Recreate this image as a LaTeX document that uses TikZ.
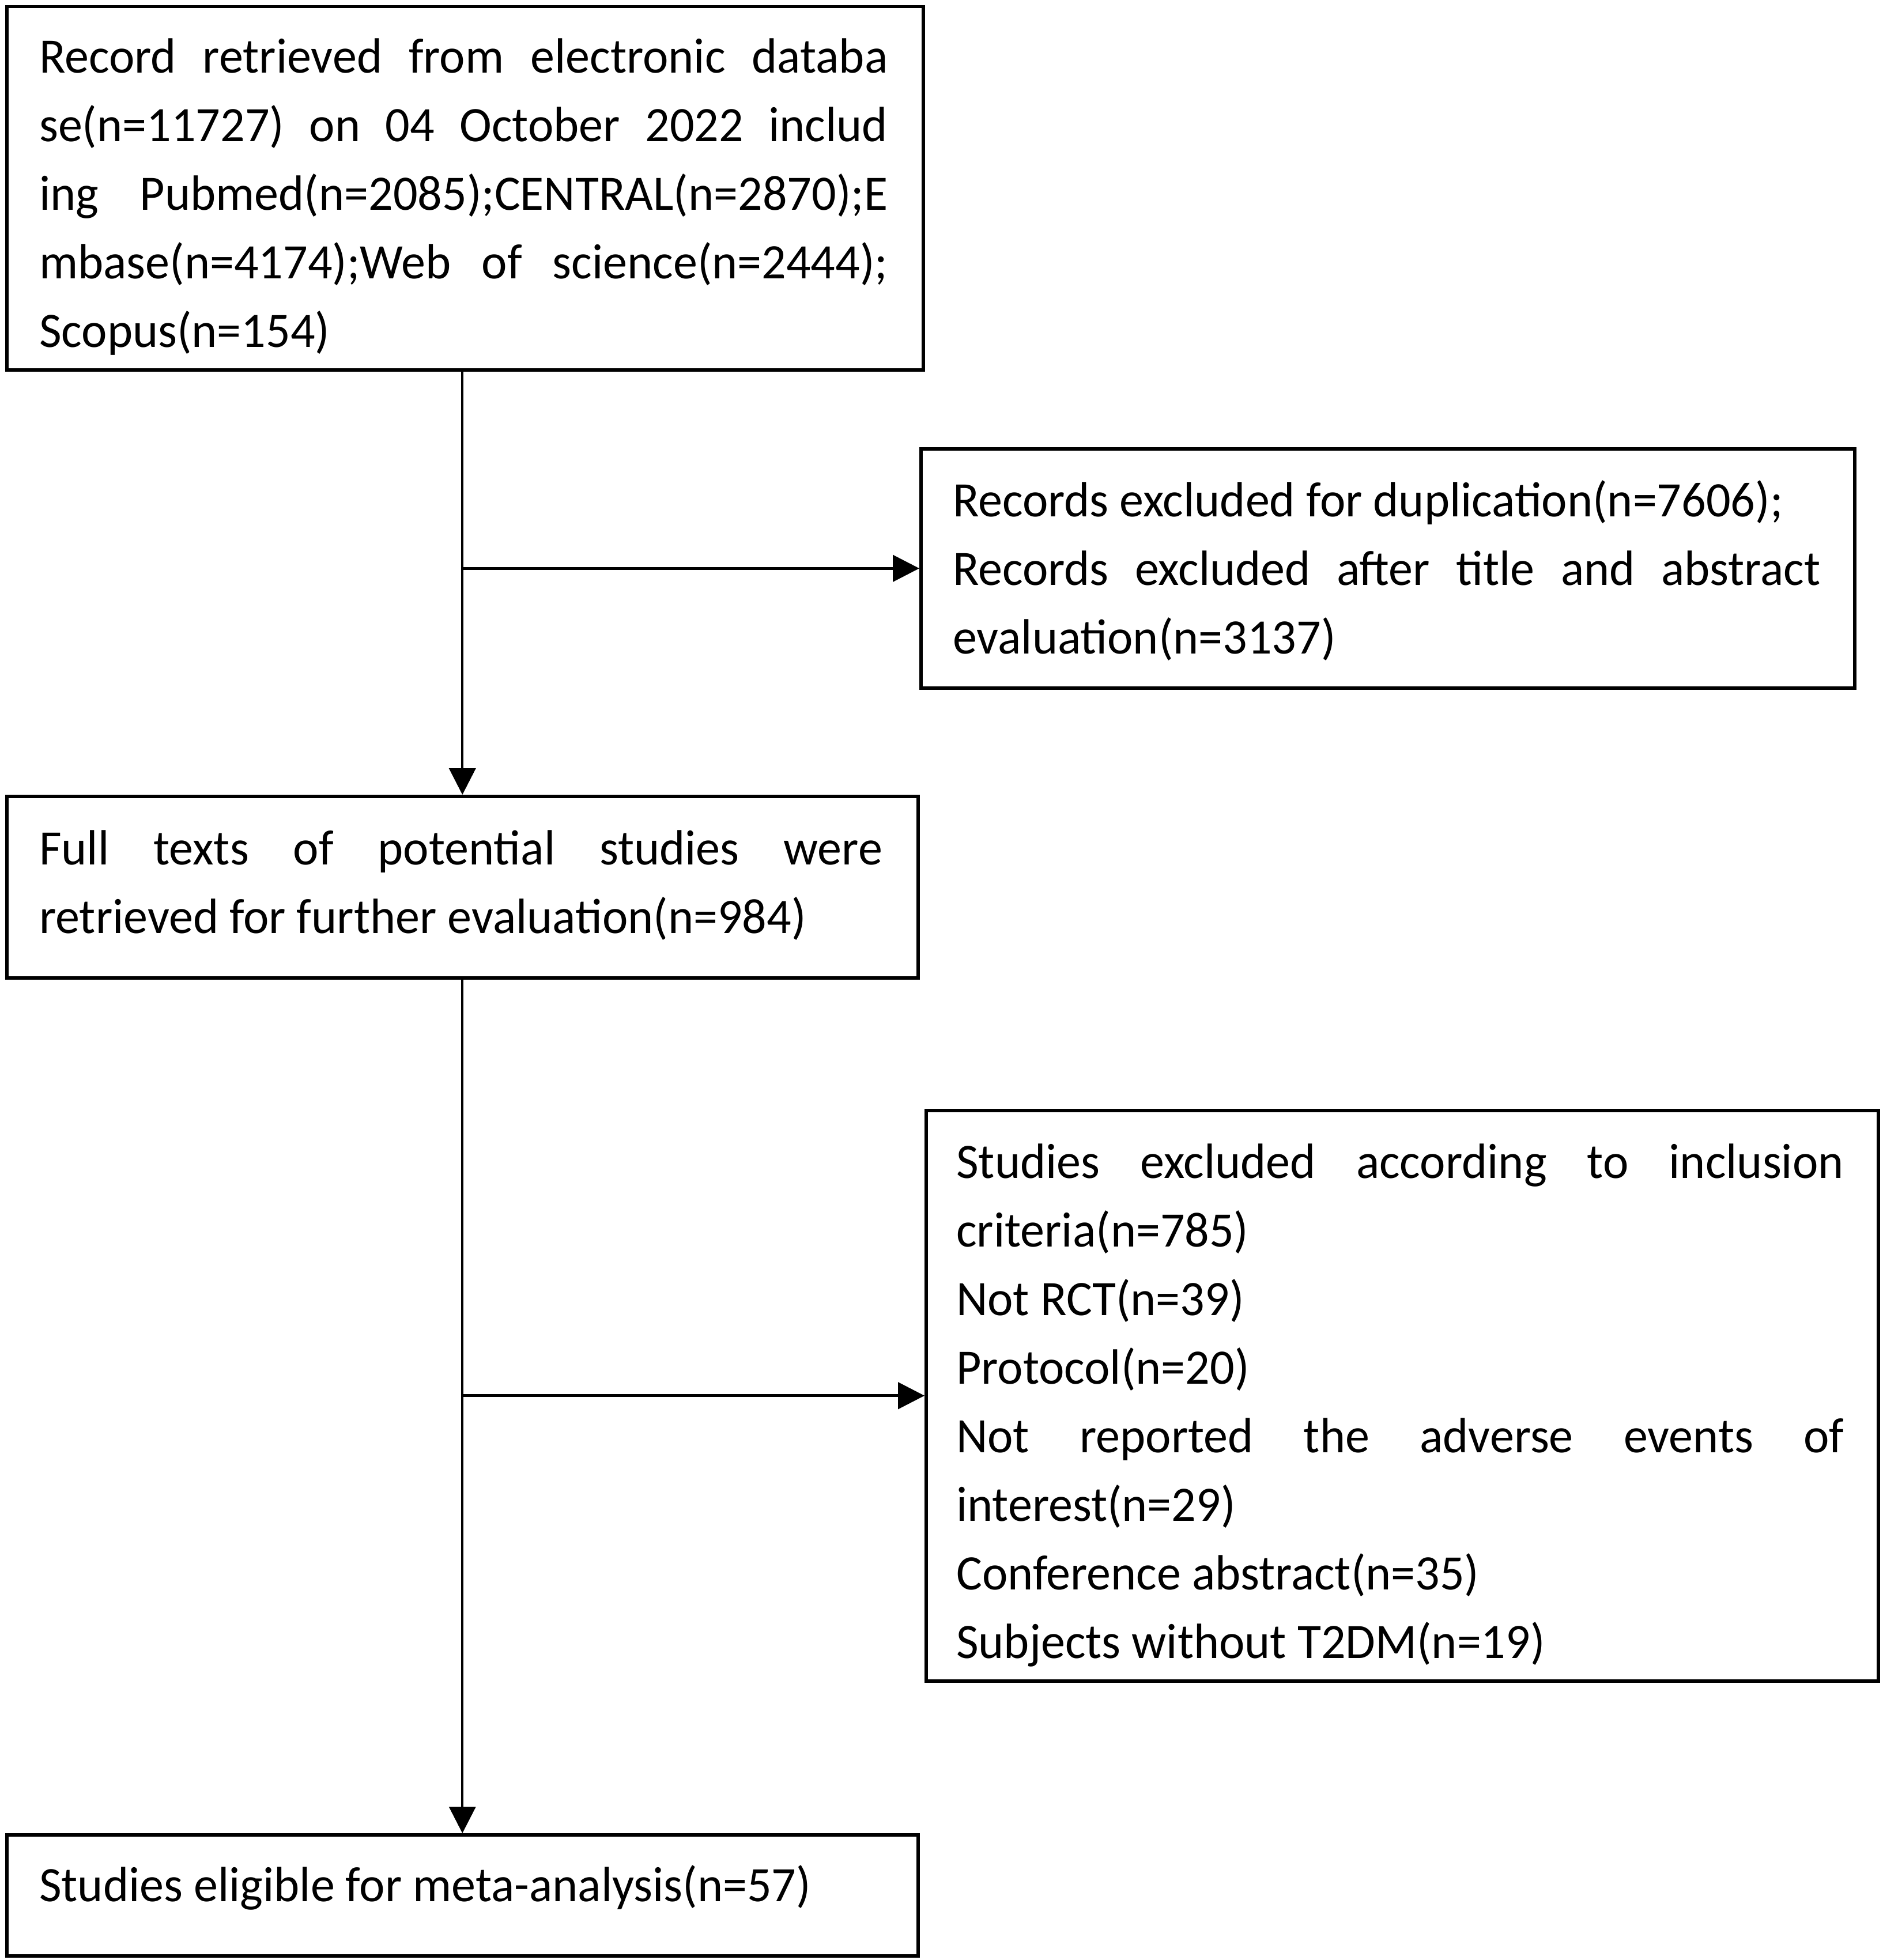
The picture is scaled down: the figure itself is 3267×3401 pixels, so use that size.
\documentclass[tikz,border=0pt]{standalone}
\usepackage{fontspec}
\setmainfont{Carlito}[FakeStretch=0.978]
\usetikzlibrary{arrows.meta}
\begin{document}
\begin{tikzpicture}[x=1pt,y=-1pt,
  boxnode/.style={draw=black, line width=5.5pt, rectangle, inner sep=0pt, anchor=north west},
  txtnode/.style={inner sep=0pt, anchor=base west, font=\fontsize{86pt}{119pt}\selectfont},
  conn/.style={draw=black, line width=4pt, -{Triangle[length=46pt,width=46pt]}},
  hconn/.style={conn, line width=5pt}]
\fill[white] (0,0) rectangle (3267,3401);
\useasboundingbox (0,0) rectangle (3267,3401);
% boxes
\node[boxnode, minimum width=1590pt, minimum height=630pt] (b1) at (9,9) {};
\node[boxnode, minimum width=1620pt, minimum height=415pt] (b2) at (1595,776) {};
\node[boxnode, minimum width=1581pt, minimum height=315pt] (b3) at (9,1379) {};
\node[boxnode, minimum width=1652pt, minimum height=990pt] (b4) at (1604,1924) {};
\node[boxnode, minimum width=1581pt, minimum height=210pt] (b5) at (9,3181) {};
% texts
\node[txtnode] (t1) at (68,127) {\parbox[t]{1472pt}{%
\makebox[\linewidth][s]{Record retrieved from electronic databa}\\
\makebox[\linewidth][s]{se(n=11727) on 04 October 2022 includ}\\
\makebox[\linewidth][s]{ing Pubmed(n=2085);CENTRAL(n=2870);E}\\
\makebox[\linewidth][s]{mbase(n=4174);Web of science(n=2444);}\\
Scopus(n=154)}};
\node[txtnode] (t2) at (1653,896) {\parbox[t]{1505pt}{%
Records excluded for duplication(n=7606);\\
\makebox[\linewidth][s]{Records excluded after title and abstract}\\
evaluation(n=3137)}};
\node[txtnode] (t3) at (68,1500) {\parbox[t]{1463pt}{%
\makebox[\linewidth][s]{Full texts of potential studies were}\\
retrieved for further evaluation(n=984)}};
\node[txtnode] (t4) at (1659,2044) {\parbox[t]{1540pt}{%
\makebox[\linewidth][s]{Studies excluded according to inclusion}\\
criteria(n=785)\\
Not RCT(n=39)\\
Protocol(n=20)\\
\makebox[\linewidth][s]{Not reported the adverse events of}\\
interest(n=29)\\
Conference abstract(n=35)\\
Subjects without T2DM(n=19)}};
\node[txtnode] (t5) at (68,3299) {Studies eligible for meta-analysis(n=57)};
% connectors
\draw[conn] (b3.north |- b1.south) -- (b3.north);
\draw[conn] (b5.north |- b3.south) -- (b5.north);
\draw[hconn] (b2.west -| b3.north) -- (b2.west);
\draw[hconn] (b4.west -| b3.north) -- (b4.west);
\end{tikzpicture}
\end{document}
